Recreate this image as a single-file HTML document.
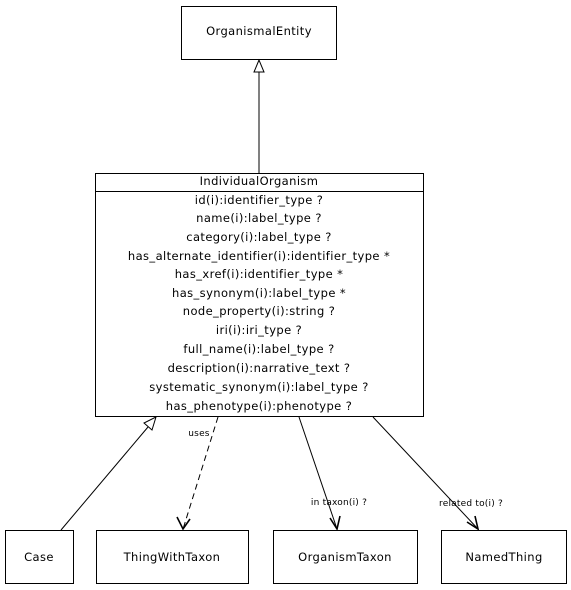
<!DOCTYPE html>
<html><head><meta charset="utf-8"><style>
html,body{margin:0;padding:0;background:#fff;}
svg{display:block;}
text{font-family:"DejaVu Sans","Liberation Sans",sans-serif;font-size:11.5px;fill:#000;letter-spacing:0.4px;}
.s{font-size:9px;letter-spacing:0.2px;}
</style></head><body>
<svg width="571" height="590" viewBox="0 0 571 590" xmlns="http://www.w3.org/2000/svg">
<g fill="#fff" stroke="#000" stroke-width="1">
<rect x="181.5" y="6.5" width="155" height="53"/>
<rect x="95.5" y="173.5" width="328" height="243"/>
<line x1="95.5" y1="191.5" x2="423.5" y2="191.5"/>
<rect x="5.5" y="530.5" width="68" height="53"/>
<rect x="96.5" y="530.5" width="152" height="53"/>
<rect x="273.5" y="530.5" width="144" height="53"/>
<rect x="441.5" y="530.5" width="125" height="53"/>
</g>
<g stroke="#000" stroke-width="1" fill="none">
<line x1="259" y1="173" x2="259" y2="72"/>
<polygon points="259,60 254,72 264,72" fill="#fff"/>
<line x1="61" y1="530" x2="148" y2="427"/>
<polygon points="156,417 144,423 152,430" fill="#fff"/>
<line x1="218" y1="417" x2="183" y2="529" stroke-dasharray="6,4"/>
<polyline points="177,517 183,529 190,519" stroke-width="1.6"/>
<line x1="299" y1="417" x2="337" y2="529"/>
<polyline points="330,518 337,529 340,516" stroke-width="1.6"/>
<line x1="373" y1="417" x2="478" y2="529"/>
<polyline points="467,522 478,529 475,516" stroke-width="1.6"/>
</g>
<g text-anchor="middle">
<text x="259" y="35">OrganismalEntity</text>
<text x="259" y="185">IndividualOrganism</text>
<text x="259" y="204">id(i):identifier_type ?</text>
<text x="259" y="222">name(i):label_type ?</text>
<text x="259" y="241">category(i):label_type ?</text>
<text x="259" y="260">has_alternate_identifier(i):identifier_type *</text>
<text x="259" y="278">has_xref(i):identifier_type *</text>
<text x="259" y="297">has_synonym(i):label_type *</text>
<text x="259" y="315">node_property(i):string ?</text>
<text x="259" y="334">iri(i):iri_type ?</text>
<text x="259" y="353">full_name(i):label_type ?</text>
<text x="259" y="372">description(i):narrative_text ?</text>
<text x="259" y="391">systematic_synonym(i):label_type ?</text>
<text x="259" y="410">has_phenotype(i):phenotype ?</text>
<text x="39" y="561">Case</text>
<text x="172" y="561">ThingWithTaxon</text>
<text x="345" y="561">OrganismTaxon</text>
<text x="504" y="561">NamedThing</text>
<text class="s" x="199" y="436">uses</text>
<text class="s" x="339" y="505">in taxon(i) ?</text>
<text class="s" x="471" y="506">related to(i) ?</text>
</g>
</svg>
</body></html>
